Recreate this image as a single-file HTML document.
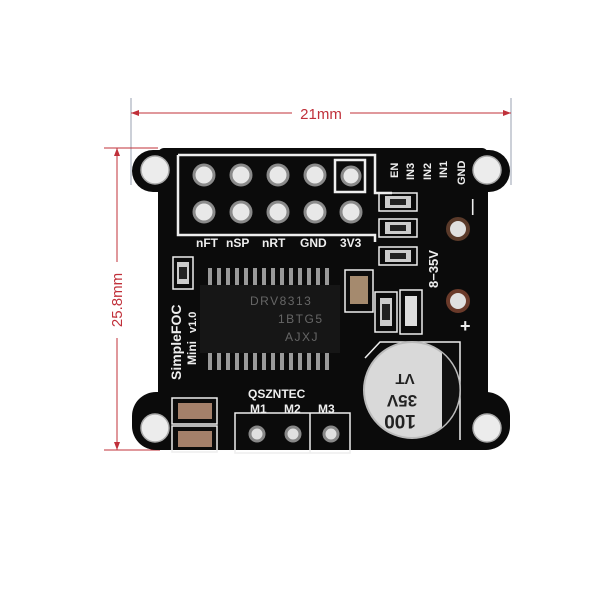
<!DOCTYPE html>
<html><head><meta charset="utf-8"><style>
html,body{margin:0;padding:0;background:#fff;width:600px;height:600px;overflow:hidden}
</style></head><body>
<svg width="600" height="600" viewBox="0 0 600 600" xmlns="http://www.w3.org/2000/svg" font-family="Liberation Sans, sans-serif">
<rect width="600" height="600" fill="#fff"/>
<g stroke="#c0303a" stroke-width="1" fill="#c0303a">
<line x1="131" y1="98" x2="131" y2="185" stroke="#9aa0b0"/>
<line x1="511" y1="98" x2="511" y2="185" stroke="#9aa0b0"/>
<line x1="131" y1="113" x2="292" y2="113"/>
<line x1="350" y1="113" x2="511" y2="113"/>
<polygon points="131,113 139,110 139,116" stroke="none"/>
<polygon points="511,113 503,110 503,116" stroke="none"/>
<line x1="104" y1="148" x2="158" y2="148"/>
<line x1="104" y1="450" x2="160" y2="450"/>
<line x1="117" y1="148" x2="117" y2="262"/>
<line x1="117" y1="338" x2="117" y2="450"/>
<polygon points="117,148 114,156 120,156" stroke="none"/>
<polygon points="117,450 114,442 120,442" stroke="none"/>
</g>
<text x="321" y="119" font-size="15" fill="#c0303a" text-anchor="middle">21mm</text>
<text transform="translate(122,300) rotate(-90)" font-size="15" fill="#c0303a" text-anchor="middle">25.8mm</text>
<g fill="#0b0b0b">
<rect x="158" y="148" width="330" height="302" rx="6"/>
<rect x="132" y="150" width="378" height="42" rx="21"/>
<rect x="132" y="392" width="378" height="58" rx="24"/>
</g>
<g fill="#ececec" stroke="#aaa" stroke-width="1.5">
<circle cx="155" cy="170" r="14"/><circle cx="487" cy="170" r="14"/>
<circle cx="155" cy="428" r="14"/><circle cx="487" cy="428" r="14"/>
</g>
<g fill="none" stroke="#eee" stroke-width="2.5">
<polyline points="178,155 375,155 375,193 392,193"/>
<polyline points="178,155 178,235 375,235 375,242"/>
<rect x="335" y="160" width="30" height="32"/>
</g>
<g fill="#e8e8e8" stroke="#8a8a8a" stroke-width="3">
<circle cx="204" cy="175" r="10"/><circle cx="241" cy="175" r="10"/><circle cx="278" cy="175" r="10"/><circle cx="315" cy="175" r="10"/><circle cx="351" cy="176" r="9"/>
<circle cx="204" cy="212" r="10"/><circle cx="241" cy="212" r="10"/><circle cx="278" cy="212" r="10"/><circle cx="315" cy="212" r="10"/><circle cx="351" cy="212" r="10"/>
</g>
<g fill="#eee" font-weight="bold" font-size="12">
<text x="196" y="247">nFT</text><text x="226" y="247">nSP</text><text x="262" y="247">nRT</text><text x="300" y="247">GND</text><text x="340" y="247">3V3</text>
<text transform="translate(398,178) rotate(-90)" font-size="11">EN</text>
<text transform="translate(414,180) rotate(-90)" font-size="11">IN3</text>
<text transform="translate(431,180) rotate(-90)" font-size="11">IN2</text>
<text transform="translate(447,178) rotate(-90)" font-size="11">IN1</text>
<text transform="translate(465,185) rotate(-90)" font-size="11">GND</text>
<text transform="translate(438,288) rotate(-90)" font-size="13">8−35V</text>
<text x="460" y="332" font-size="18">+</text>
<text transform="translate(477,215) rotate(-90)" font-size="16">—</text>
<text transform="translate(181,380) rotate(-90)" font-size="14">SimpleFOC</text>
<text transform="translate(196,365) rotate(-90)" font-size="12">Mini</text>
<text transform="translate(196,333) rotate(-90)" font-size="11">v1.0</text>
<text x="248" y="398" font-size="12">QSZNTEC</text>
<text x="250" y="413" font-size="12">M1</text><text x="284" y="413" font-size="12">M2</text><text x="318" y="413" font-size="12">M3</text>
</g>
<g stroke="#eee" stroke-width="1.5" fill="none">
<rect x="379" y="193" width="38" height="18"/><rect x="379" y="219" width="38" height="18"/><rect x="379" y="247" width="38" height="18"/>
<rect x="173" y="257" width="20" height="32"/>
<rect x="345" y="270" width="28" height="42"/>
<rect x="375" y="292" width="22" height="40"/><rect x="400" y="290" width="22" height="44"/>
<rect x="235" y="413" width="115" height="40"/><line x1="310" y1="413" x2="310" y2="453"/>
<rect x="172" y="398" width="45" height="26"/><rect x="172" y="426" width="45" height="26"/>
<polyline points="365,358 380,342 460,342 460,440"/>
</g>
<g fill="#ccc">
<rect x="385" y="196" width="26" height="12"/><rect x="385" y="222" width="26" height="12"/><rect x="385" y="250" width="26" height="12"/>
<rect x="177" y="262" width="12" height="22"/><rect x="380" y="298" width="12" height="28"/>
</g>
<g fill="#222"><rect x="390" y="199" width="16" height="6"/><rect x="390" y="225" width="16" height="6"/><rect x="390" y="253" width="16" height="6"/><rect x="179" y="267" width="8" height="12"/><rect x="382" y="304" width="8" height="16"/></g>
<rect x="350" y="276" width="18" height="28" fill="#a58a6e"/>
<rect x="405" y="296" width="12" height="30" fill="#ddd"/>
<rect x="178" y="403" width="34" height="16" fill="#a4806a"/><rect x="178" y="431" width="34" height="16" fill="#a4806a"/>
<g fill="#999">
<rect x="208" y="268" width="4" height="18"/><rect x="217" y="268" width="4" height="18"/><rect x="226" y="268" width="4" height="18"/><rect x="235" y="268" width="4" height="18"/><rect x="244" y="268" width="4" height="18"/><rect x="253" y="268" width="4" height="18"/><rect x="262" y="268" width="4" height="18"/><rect x="271" y="268" width="4" height="18"/><rect x="280" y="268" width="4" height="18"/><rect x="289" y="268" width="4" height="18"/><rect x="298" y="268" width="4" height="18"/><rect x="307" y="268" width="4" height="18"/><rect x="316" y="268" width="4" height="18"/><rect x="325" y="268" width="4" height="18"/>
<rect x="208" y="352" width="4" height="18"/><rect x="217" y="352" width="4" height="18"/><rect x="226" y="352" width="4" height="18"/><rect x="235" y="352" width="4" height="18"/><rect x="244" y="352" width="4" height="18"/><rect x="253" y="352" width="4" height="18"/><rect x="262" y="352" width="4" height="18"/><rect x="271" y="352" width="4" height="18"/><rect x="280" y="352" width="4" height="18"/><rect x="289" y="352" width="4" height="18"/><rect x="298" y="352" width="4" height="18"/><rect x="307" y="352" width="4" height="18"/><rect x="316" y="352" width="4" height="18"/><rect x="325" y="352" width="4" height="18"/>
</g>
<rect x="200" y="285" width="140" height="68" fill="#161616"/>
<g fill="#666" font-size="12" letter-spacing="1.5"><text x="250" y="305">DRV8313</text><text x="278" y="323">1BTG5</text><text x="285" y="341">AJXJ</text></g>
<circle cx="458" cy="229" r="10" fill="#e0e0e0" stroke="#5a3a2a" stroke-width="4"/>
<circle cx="458" cy="301" r="10" fill="#e0e0e0" stroke="#6a3a2a" stroke-width="4"/>
<g fill="#e0e0e0" stroke="#888" stroke-width="3"><circle cx="257" cy="434" r="7"/><circle cx="293" cy="434" r="7"/><circle cx="331" cy="434" r="7"/></g>
<circle cx="412" cy="390" r="48" fill="#d9d9d9" stroke="#bbb" stroke-width="2"/>
<path d="M442,353 A48,48 0 0 1 442,427 Z" fill="#111"/>
<g fill="#222" font-weight="bold" text-anchor="middle">
<text transform="translate(405,374) rotate(180)" font-size="15">VT</text>
<text transform="translate(402,395) rotate(180)" font-size="17">35V</text>
<text transform="translate(400,415) rotate(180)" font-size="19">100</text>
</g>
</svg>
</body></html>
